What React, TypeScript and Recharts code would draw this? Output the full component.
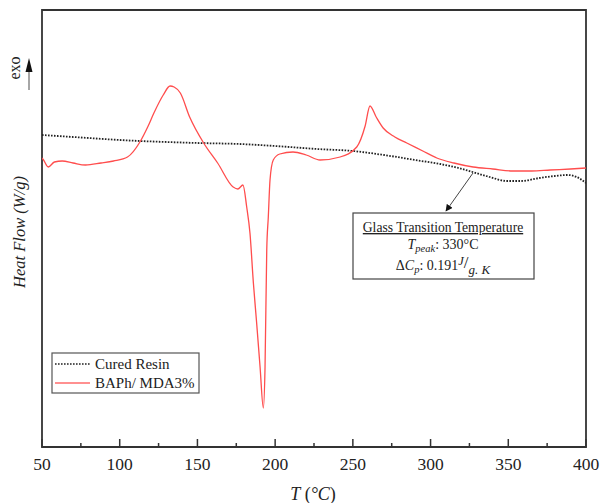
import { LineChart, Line, XAxis, YAxis, ReferenceArea } from "recharts";

// DSC thermogram (heat flow in arbitrary W/g units)
const curedTemp = [50, 60, 80, 100, 113, 130, 150, 177, 200, 227, 250, 270, 290, 306, 318, 327, 338, 349, 358, 370, 380, 388, 394, 400];
const curedFlow = [3.12, 3.11, 3.09, 3.07, 3.06, 3.05, 3.04, 3.03, 3.01, 2.98, 2.96, 2.92, 2.87, 2.83, 2.79, 2.75, 2.7, 2.66, 2.66, 2.69, 2.71, 2.72, 2.7, 2.64];

const blendTemp = [
  50, 51, 54, 58, 63, 70, 78, 88, 96, 105, 113, 118, 122, 128, 132.4, 135, 139, 145, 154, 163, 173, 176, 179.3,
  181.7, 183.8, 186, 188.1, 190.3, 192.4, 193.5, 194.6, 195.6, 196.7, 198.8, 203, 211.5, 220, 228.9, 241.8,
  252.5, 257.9, 261, 265, 269.5, 277, 284.7, 295, 304, 315, 327.4, 340, 353, 365, 377, 390, 400,
];
const blendFlow = [
  2.89, 2.87, 2.8, 2.85, 2.86, 2.84, 2.82, 2.84, 2.86, 2.9, 3.05, 3.2, 3.34, 3.52, 3.61, 3.6, 3.54, 3.3, 3.04, 2.84, 2.6, 2.58, 2.62,
  2.4, 2.14, 1.64, 1.24, 0.8, 0.39, 0.8, 1.97, 2.3, 2.67, 2.87, 2.93, 2.95, 2.92, 2.87, 2.9,
  3.0, 3.21, 3.41, 3.3, 3.19, 3.1, 3.04, 2.96, 2.89, 2.84, 2.8, 2.78, 2.76, 2.76, 2.77, 2.78, 2.79,
];

const tempTicks = [50, 75, 100, 125, 150, 175, 200, 225, 250, 275, 300, 325, 350, 375, 400];

const curedData = curedTemp.map((t, i) => ({ t, flow: curedFlow[i] }));
const blendData = blendTemp.map((t, i) => ({ t, flow: blendFlow[i] }));

const SERIF = "'Liberation Serif', 'Times New Roman', serif";
const FRAME = "#333";
const W = 601;
const H = 503;

// ticks point into the plot, minor ones shorter and unlabelled
const TempTick = (props: any) => {
  const { x, y, payload } = props;
  const major = payload.value % 50 === 0;
  return (
    <g>
      <line x1={x} x2={x} y1={y} y2={y - (major ? 8 : 4)} stroke={FRAME} strokeWidth={1.5} />
      {major && (
        <text x={x} y={y + 23} textAnchor="middle" fontSize={17.5} fontFamily={SERIF} fill="#222">
          {payload.value}
        </text>
      )}
    </g>
  );
};

export default function App() {
  // pinned to the page corner so nothing overflows the window
  return (
    <div style={{ position: "absolute", left: 0, top: 0, width: W, height: H, overflow: "hidden" }}>
      <LineChart width={W} height={H} margin={{ top: 10, right: 15, left: 42, bottom: 0 }}>
        <XAxis
          type="number"
          dataKey="t"
          domain={[50, 400]}
          ticks={tempTicks}
          allowDataOverflow
          height={56}
          tickSize={0}
          tickMargin={0}
          tickLine={false}
          tick={<TempTick />}
          axisLine={{ stroke: FRAME, strokeWidth: 1.8 }}
        />
        <YAxis
          type="number"
          domain={[0, 4.37]}
          allowDataOverflow
          width={0}
          tick={false}
          tickLine={false}
          axisLine={{ stroke: FRAME, strokeWidth: 1.8 }}
        />
        <ReferenceArea x1={50} x2={400} y1={0} y2={4.37} fill="none" fillOpacity={0} stroke={FRAME} strokeWidth={1.8} />
        <Line
          data={curedData}
          dataKey="flow"
          type="monotone"
          stroke="#222"
          strokeWidth={1.8}
          strokeDasharray="1.6 1.4"
          dot={false}
          isAnimationActive={false}
        />
        <Line
          data={blendData}
          dataKey="flow"
          type="monotone"
          stroke="#ff4d4d"
          strokeWidth={1.3}
          dot={false}
          isAnimationActive={false}
        />
      </LineChart>

      <svg
        width={W}
        height={H}
        style={{ position: "absolute", left: 0, top: 0, pointerEvents: "none" }}
        fontFamily={SERIF}
      >
        <defs>
          <marker id="tip" viewBox="0 0 10 10" refX="9" refY="5" markerWidth="7" markerHeight="7" orient="auto">
            <path d="M0,0 L10,5 L0,10 z" fill="#111" />
          </marker>
        </defs>

        {/* exo marker */}
        <text transform="translate(14,68) rotate(-90)" textAnchor="middle" dominantBaseline="central" fontSize={16} fill="#222">
          exo
        </text>
        <line x1={29} x2={29} y1={90} y2={72} stroke="#888" strokeWidth={1.5} />
        <path d="M29,58 L32.5,72 L25.5,72 z" fill="#111" />

        {/* axis titles */}
        <text transform="translate(19.5,232) rotate(-90)" textAnchor="middle" dominantBaseline="central" fontSize={16.5} fontStyle="italic" fill="#222">
          Heat Flow (W/g)
        </text>
        <text x={313} y={500} textAnchor="middle" fontSize={18} fill="#222">
          <tspan fontStyle="italic">T</tspan> (<tspan fontStyle="italic">°C</tspan>)
        </text>

        {/* legend */}
        <rect x={52} y={353} width={147} height={40} fill="#fff" stroke="#555" strokeWidth={1.2} />
        <line x1={55} x2={90} y1={364} y2={364} stroke="#222" strokeWidth={1.6} strokeDasharray="1.6 1.4" />
        <line x1={55} x2={90} y1={383} y2={383} stroke="#ff6b6b" strokeWidth={1.6} />
        <text x={95} y={369} fontSize={15} fill="#222">Cured Resin</text>
        <text x={95} y={388} fontSize={15} fill="#222">BAPh/ MDA3%</text>

        {/* Tg annotation */}
        <line x1={473} y1={173} x2={446} y2={211} stroke="#444" strokeWidth={1} markerEnd="url(#tip)" />
        <rect x={353} y={213} width={181} height={66} fill="#fff" stroke="#444" strokeWidth={1.2} />
        <text x={443} y={232} textAnchor="middle" fontSize={13.6} fill="#222" textDecoration="underline">
          Glass Transition Temperature
        </text>
        <text x={443} y={249} textAnchor="middle" fontSize={14} fill="#222">
          <tspan fontStyle="italic">T</tspan>
          <tspan fontStyle="italic" fontSize={10.5} dy={3}>peak</tspan>
          <tspan dy={-3}>: 330°C</tspan>
        </text>
        <text x={443} y={270} textAnchor="middle" fontSize={14} fill="#222">
          <tspan>Δ</tspan>
          <tspan fontStyle="italic">C</tspan>
          <tspan fontStyle="italic" fontSize={10.5} dy={3}>p</tspan>
          <tspan dy={-3}>: 0.191</tspan>
          <tspan fontStyle="italic" fontSize={12.5} dy={-5}>J</tspan>
          <tspan fontSize={17} dy={3}>/</tspan>
          <tspan fontStyle="italic" fontSize={13} dy={6}>g. K</tspan>
        </text>
      </svg>
    </div>
  );
}
